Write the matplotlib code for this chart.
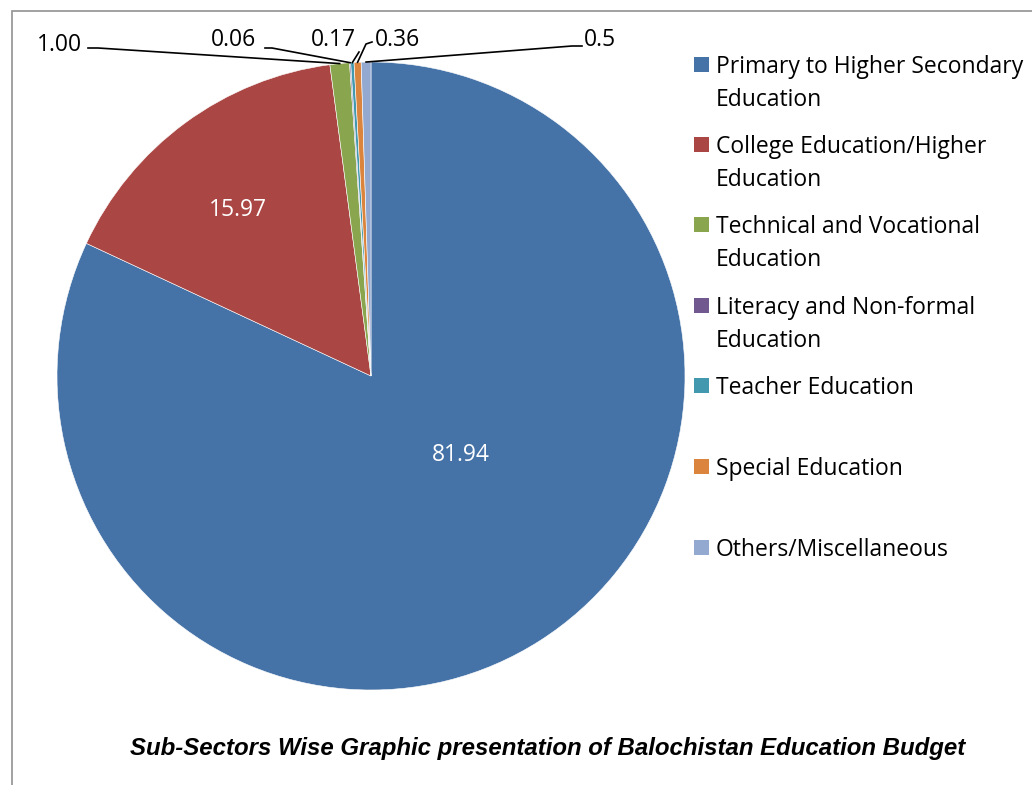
import matplotlib.pyplot as plt
from matplotlib.patches import Rectangle
import numpy as np

plt.rcParams['font.family'] = ['Open Sans', 'DejaVu Sans']

# --- data ---
categories = ["Primary to Higher Secondary\nEducation",
              "College Education/Higher\nEducation",
              "Technical and Vocational\nEducation",
              "Literacy and Non-formal\nEducation",
              "Teacher Education",
              "Special Education",
              "Others/Miscellaneous"]
values = [81.94, 15.97, 1.00, 0.06, 0.17, 0.36, 0.5]
value_labels = ["81.94", "15.97", "1.00", "0.06", "0.17", "0.36", "0.5"]
colors = ["#4572A7", "#AA4643", "#89A54E", "#71588F", "#4198AF", "#DB843D", "#93A9CF"]

W, H = 1032, 785


def py(y):
    # pixel row (from top) -> axis y
    return H - y


fig = plt.figure(figsize=(W / 100, H / 100), dpi=100)
ax = fig.add_axes([0, 0, 1, 1])

cx, cy, r = 371, py(376), 314
wedges, _ = ax.pie(values, colors=colors, startangle=90, counterclock=False,
                   center=(cx, cy), radius=r,
                   wedgeprops=dict(edgecolor='white', linewidth=0.4))
ax.set_xlim(0, W)
ax.set_ylim(0, H)
ax.set_aspect('equal')
ax.axis('off')

# frame around chart area (bottom/right fall outside the image)
fig.add_artist(Rectangle((12 / W, -0.1), 1.2, 1.1 - 11 / H, transform=fig.transFigure,
                         fill=False, edgecolor='#9a9a9a', linewidth=1.3))

# inside labels
ax.text(461, py(455), value_labels[0], color='white', fontsize=16.5, ha='center', va='center')
ax.text(238, py(210), value_labels[1], color='white', fontsize=16.5, ha='center', va='center')

# outside labels with leader lines: (text pos, line start, elbow)
outside = {
    2: ((59, 45), [(88, 48), (98, 48)]),
    3: ((234, 40), [(265, 48), (272, 48)]),
    4: ((333, 40), [(359, 52)]),
    5: ((398, 40), [(372, 42), (366, 44)]),
    6: ((600, 40), [(582, 46), (572, 46)]),
}
for i, (tpos, pts) in outside.items():
    w = wedges[i]
    ang = np.deg2rad((w.theta1 + w.theta2) / 2)
    ex, ey = cx + r * np.cos(ang), cy + r * np.sin(ang)
    xs = [p[0] for p in pts] + [ex]
    ys = [py(p[1]) for p in pts] + [ey]
    ax.plot(xs, ys, color='black', lw=1.2)
    ax.text(tpos[0], py(tpos[1]), value_labels[i], fontsize=16.5, ha='center', va='center')

# legend
leg_y = [64, 144, 224, 305, 385, 466, 547]
for lab, col, y in zip(categories, colors, leg_y):
    ax.add_patch(Rectangle((694, py(y) - 7.5), 15, 15, facecolor=col, edgecolor='none'))
    for k, line in enumerate(lab.split('\n')):
        ax.text(716, py(y + k * 33), line, fontsize=16.5, ha='left', va='center_baseline')

fig.text(548 / W, 1 - 748 / H, "Sub-Sectors Wise Graphic presentation of Balochistan Education Budget",
         fontsize=17.3, fontweight='bold', fontstyle='italic', ha='center', va='center',
         family=['Liberation Sans', 'DejaVu Sans'])

fig.savefig('out.png', dpi=100)
